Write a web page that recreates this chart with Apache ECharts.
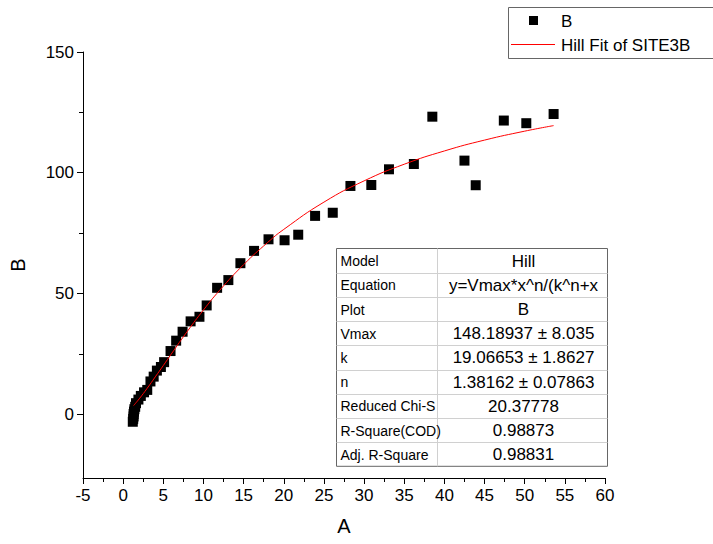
<!DOCTYPE html>
<html><head><meta charset="utf-8">
<script src="https://cdn.jsdelivr.net/npm/echarts@6/dist/echarts.min.js"></script>
<style>html,body{margin:0;padding:0;background:#fff}#c{width:713px;height:544px}</style>
</head><body><div id="c"></div>
<script>
// scatter data
const pointsX = [1.2,1.25,1.3,1.3,1.35,1.4,1.5,1.6,1.9,2.2,2.6,3.0,3.4,3.8,4.2,4.7,5.1,5.9,6.6,7.4,8.4,9.5,10.4,11.7,13.1,14.6,16.3,18.1,20.1,21.8,23.9,26.1,28.3,30.9,33.1,36.2,38.5,42.5,43.9,47.4,50.2,53.6];
const pointsY = [-3.2,-2.0,-1.0,0.0,1.0,2.0,3.0,4.5,6.0,7.5,9.0,10.0,13.5,15.5,18.0,19.5,21.5,26.1,30.4,34.1,38.4,40.3,45.0,52.3,55.5,62.5,67.6,72.4,72.0,74.3,82.1,83.4,94.5,94.9,101.4,103.6,123.2,105.0,94.8,121.6,120.5,124.3];
// fit curve points
const fitX = [1.3,2,3,4,5,6,8,10,12,15,18,20,25,30,35,40,45,50,53.6];
const fitY = [3.5,6.3,10.7,15.4,20.1,24.9,34.3,43.1,51.2,61.9,71.1,76.5,87.8,96.6,103.5,109.0,113.5,117.2,119.5];
const xTicks = [-5,0,5,10,15,20,25,30,35,40,45,50,55,60];
const yTicks = [0,50,100,150];
const yMinorTicks = [25,75,125];
const legendNames = ['B','Hill Fit of SITE3B'];
const tableLabels = ['Model','Equation','Plot','Vmax','k','n','Reduced Chi-S','R-Square(COD)','Adj. R-Square'];
const tableValues = ['Hill','y=Vmax*x^n/(k^n+x','B','148.18937 ± 8.035','19.06653 ± 1.8627','1.38162 ± 0.07863','20.37778','0.98873','0.98831'];

const FONT = 'Liberation Sans, Arial, sans-serif';
const scatterData = pointsX.map((x,i)=>[x,pointsY[i]]);
const fitData = fitX.map((x,i)=>[x,fitY[i]]);

const graphics = [];
// legend
graphics.push({type:'rect',shape:{x:508.5,y:7.5,width:220,height:51},style:{fill:'#fff',stroke:'#666',lineWidth:1},z:10});
graphics.push({type:'rect',shape:{x:529,y:16,width:9,height:9},style:{fill:'#000'},z:11});
graphics.push({type:'text',x:561,y:21,style:{text:legendNames[0],font:'17px '+FONT,fill:'#000',textVerticalAlign:'middle'},z:11});
graphics.push({type:'line',shape:{x1:511,y1:44.5,x2:555,y2:44.5},style:{stroke:'#ff0000',lineWidth:1},z:11});
graphics.push({type:'text',x:561,y:45,style:{text:legendNames[1],font:'17px '+FONT,fill:'#000',textVerticalAlign:'middle'},z:11});
// table
const tX=336.5, tY=248.5, tW=271, rowH=24.2, c1=437.5;
const tH=rowH*tableLabels.length;
graphics.push({type:'rect',shape:{x:tX,y:tY,width:tW,height:tH},style:{fill:'#fff',stroke:'#666',lineWidth:1},z:10});
for(let i=1;i<tableLabels.length;i++){
  const yy=Math.round(tY+rowH*i)+0.5;
  graphics.push({type:'line',shape:{x1:tX,y1:yy,x2:tX+tW,y2:yy},style:{stroke:'#d0d0d0',lineWidth:1},z:11});
}
graphics.push({type:'line',shape:{x1:c1,y1:tY,x2:c1,y2:tY+tH},style:{stroke:'#d0d0d0',lineWidth:1},z:11});
tableLabels.forEach((t,i)=>{
  const cy=tY+rowH*i+rowH/2+0.5;
  graphics.push({type:'text',x:tX+4,y:cy,style:{text:t,font:'14px '+FONT,fill:'#000',textVerticalAlign:'middle'},z:12});
  graphics.push({type:'text',x:(c1+tX+tW)/2+1,y:cy,style:{text:tableValues[i],font:'17px '+FONT,fill:'#000',textAlign:'center',textVerticalAlign:'middle'},z:12});
});

const chart = echarts.init(document.getElementById('c'),null,{renderer:'svg'});
chart.setOption({
  animation:false,
  backgroundColor:'#fff',
  grid:{left:81,right:108,top:52,bottom:66,containLabel:false},
  xAxis:{type:'value',min:-5,max:60,interval:5,
    name:'A',nameLocation:'middle',nameGap:38,nameTextStyle:{fontSize:20,fontFamily:FONT,color:'#000'},
    axisLine:{onZero:false,lineStyle:{color:'#000',width:1}},
    axisTick:{show:true,inside:false,length:6,lineStyle:{color:'#000'}},
    minorTick:{show:true,splitNumber:2,length:4,lineStyle:{color:'#000'}},
    splitLine:{show:false},
    axisLabel:{color:'#000',fontSize:17,fontFamily:FONT,margin:9,customValues:xTicks}
  },
  yAxis:{type:'value',min:-26.5,max:150,
    name:'B',nameLocation:'middle',nameGap:55,nameRotate:90,nameTextStyle:{fontSize:20,fontFamily:FONT,color:'#000'},
    axisLine:{show:true,onZero:false,lineStyle:{color:'#000',width:1}},
    axisTick:{show:true,length:6,lineStyle:{color:'#000'},customValues:yTicks},
    splitLine:{show:false},
    axisLabel:{color:'#000',fontSize:17,fontFamily:FONT,margin:9,customValues:yTicks}
  },
  series:[
    {name:legendNames[0],type:'scatter',data:scatterData,symbol:'rect',symbolSize:10,itemStyle:{color:'#000',opacity:1},z:3},
    {name:legendNames[1],type:'line',data:fitData,smooth:true,showSymbol:false,symbol:'none',lineStyle:{color:'#ff0000',width:1},z:4}
  ],
  graphic:graphics
});
// minor y ticks placed through the axis scale
const axisX = Math.round(chart.convertToPixel({xAxisIndex:0}, -5));
yMinorTicks.forEach(v=>{
  const py = Math.round(chart.convertToPixel({yAxisIndex:0}, v))+0.5;
  graphics.push({type:'line',shape:{x1:axisX-4,y1:py,x2:axisX,y2:py},style:{stroke:'#000',lineWidth:1},z:5});
});
chart.setOption({graphic:graphics});
</script></body></html>
